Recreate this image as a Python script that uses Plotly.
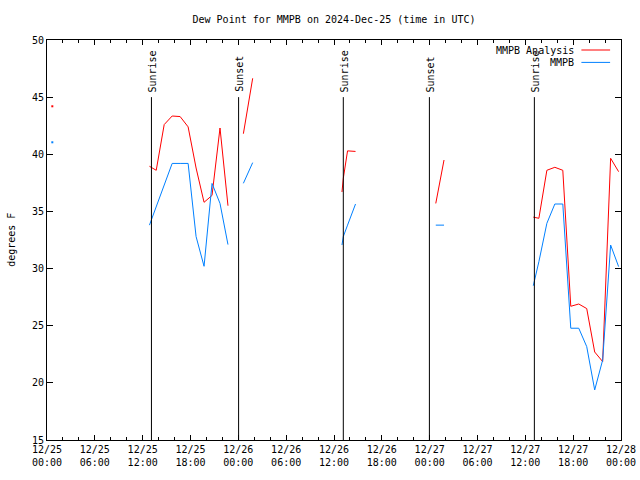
import plotly.graph_objects as go

# ---- data (time in UTC) ----
times = [
    "2024-12-25 00:40", None,
    "2024-12-25 12:51", "2024-12-25 13:42", "2024-12-25 14:42", "2024-12-25 15:42",
    "2024-12-25 16:42", "2024-12-25 17:42", "2024-12-25 18:42", "2024-12-25 19:42",
    "2024-12-25 20:42", "2024-12-25 21:42", "2024-12-25 22:42", None,
    "2024-12-26 00:38", "2024-12-26 01:48", None,
    "2024-12-26 13:00", "2024-12-26 13:10", "2024-12-26 13:42", "2024-12-26 14:42", None,
    "2024-12-27 00:46", "2024-12-27 01:48", None,
    "2024-12-27 13:00", "2024-12-27 13:42", "2024-12-27 14:42", "2024-12-27 15:42",
    "2024-12-27 16:42", "2024-12-27 17:42", "2024-12-27 18:42", "2024-12-27 19:42",
    "2024-12-27 20:42", "2024-12-27 21:42", "2024-12-27 22:42", "2024-12-27 23:42",
]
analysis = [
    44.2, None,
    38.95, 38.6, 42.6, 43.35, 43.3, 42.4, 38.8, 35.8, 36.4, 42.3, 35.5, None,
    41.8, 46.65, None,
    36.7, 37.9, 40.3, 40.25, None,
    35.7, 39.5, None,
    34.5, 34.4, 38.6, 38.86, 38.6, 26.7, 26.9, 26.5, 22.7, 21.86, 39.65, 38.48,
]
observed = [
    41.05, None,
    33.8, 35.4, 37.3, 39.2, 39.2, 39.2, 32.8, 30.2, 37.45, 35.7, 32.1, None,
    37.46, 39.27, None,
    32.06, 32.8, 33.8, 35.65, None,
    33.8, 33.8, None,
    28.5, 30.6, 33.96, 35.65, 35.65, 24.78, 24.78, 23.17, 19.38, 22.0, 32.06, 30.17,
]
series_names = ["MMPB Analysis", "MMPB"]
series_colors = ["#ff0000", "#0080ff"]

event_times = ["2024-12-25 13:06", "2024-12-26 00:02", "2024-12-26 13:10",
               "2024-12-26 23:58", "2024-12-27 13:08"]
event_labels = ["Sunrise", "Sunset", "Sunrise", "Sunset", "Sunrise"]

tick_vals = ["2024-12-25 00:00", "2024-12-25 06:00", "2024-12-25 12:00", "2024-12-25 18:00",
             "2024-12-26 00:00", "2024-12-26 06:00", "2024-12-26 12:00", "2024-12-26 18:00",
             "2024-12-27 00:00", "2024-12-27 06:00", "2024-12-27 12:00", "2024-12-27 18:00",
             "2024-12-28 00:00"]
tick_text = ["12/25<br>00:00", "12/25<br>06:00", "12/25<br>12:00", "12/25<br>18:00",
             "12/26<br>00:00", "12/26<br>06:00", "12/26<br>12:00", "12/26<br>18:00",
             "12/27<br>00:00", "12/27<br>06:00", "12/27<br>12:00", "12/27<br>18:00",
             "12/28<br>00:00"]
y_ticks = [15, 20, 25, 30, 35, 40, 45, 50]

FONT = "DejaVu Sans Mono"

fig = go.Figure()
for name, vals, col in zip(series_names, [analysis, observed], series_colors):
    fig.add_trace(go.Scatter(x=times, y=vals, mode="lines", name=name,
                             line=dict(color=col, width=1), connectgaps=False,
                             showlegend=False))
    # isolated single readings (no neighbours) drawn as a dot
    iso_x, iso_y = [], []
    for i, v in enumerate(vals):
        if v is None:
            continue
        prev_none = i == 0 or vals[i - 1] is None
        next_none = i == len(vals) - 1 or vals[i + 1] is None
        if prev_none and next_none:
            iso_x.append(times[i]); iso_y.append(v)
    if iso_x:
        fig.add_trace(go.Scatter(x=iso_x, y=iso_y, mode="markers", showlegend=False,
                                 marker=dict(color=col, size=2, symbol="square")))

# sunrise / sunset markers
for t, lab in zip(event_times, event_labels):
    fig.add_shape(type="line", x0=t, x1=t, y0=15, y1=45, xref="x", yref="y",
                  line=dict(color="black", width=1))
    fig.add_annotation(x=t, y=45, xref="x", yref="y", text=lab, textangle=-90,
                       showarrow=False, xanchor="center", yanchor="bottom", yshift=3,
                       xshift=1, font=dict(family=FONT, size=10, color="black"))

# gnuplot-style key: text right-aligned, line sample on the right
key_rows = [0.975, 0.944]
for name, col, yy in zip(series_names, series_colors, key_rows):
    fig.add_annotation(x=0.921, y=yy, xref="paper", yref="paper", text=name,
                       showarrow=False, xanchor="right", yanchor="middle",
                       font=dict(family=FONT, size=10, color="black"))
    fig.add_shape(type="line", x0=0.931, x1=0.981, y0=yy, y1=yy, xref="paper",
                  yref="paper", line=dict(color=col, width=1))

# y-axis title
fig.add_annotation(x=-0.063, y=0.5, xref="paper", yref="paper", text="degrees F",
                   textangle=-90, showarrow=False, xanchor="center", yanchor="middle",
                   font=dict(family=FONT, size=10, color="black"))

fig.update_layout(
    width=640, height=480,
    margin=dict(l=47, r=19, t=40, b=40, autoexpand=False),
    paper_bgcolor="white", plot_bgcolor="white",
    font=dict(family=FONT, size=10, color="black"),
    title=dict(text="Dew Point for MMPB on 2024-Dec-25 (time in UTC)",
               x=0.5, xref="paper", xanchor="center",
               y=0.96, yref="container", yanchor="middle",
               font=dict(family=FONT, size=10, color="black")),
    showlegend=False,
)
fig.update_xaxes(
    type="date", range=["2024-12-25 00:00", "2024-12-28 00:00"],
    tickvals=tick_vals, ticktext=tick_text, tickangle=0, automargin=False,
    ticks="inside", ticklen=5, tickcolor="black", tickwidth=1,
    minor=dict(dtick=2 * 3600 * 1000, tick0="2024-12-25 00:00", ticks="inside",
               ticklen=3, tickcolor="black", showgrid=False),
    showline=True, linecolor="black", linewidth=1, mirror="ticks",
    showgrid=False, zeroline=False,
    tickfont=dict(family=FONT, size=10, color="black"),
)
fig.update_yaxes(
    range=[15, 50], tickvals=y_ticks, ticks="inside", ticklen=6, automargin=False,
    tickcolor="black", showline=True, linecolor="black", linewidth=1,
    mirror="ticks", showgrid=False, zeroline=False,
    tickfont=dict(family=FONT, size=10, color="black"),
)

fig.write_html("out.html",
               config={"displayModeBar": False},
               post_script="document.body.style.margin='0px';"
                           "document.body.style.overflow='hidden';")
